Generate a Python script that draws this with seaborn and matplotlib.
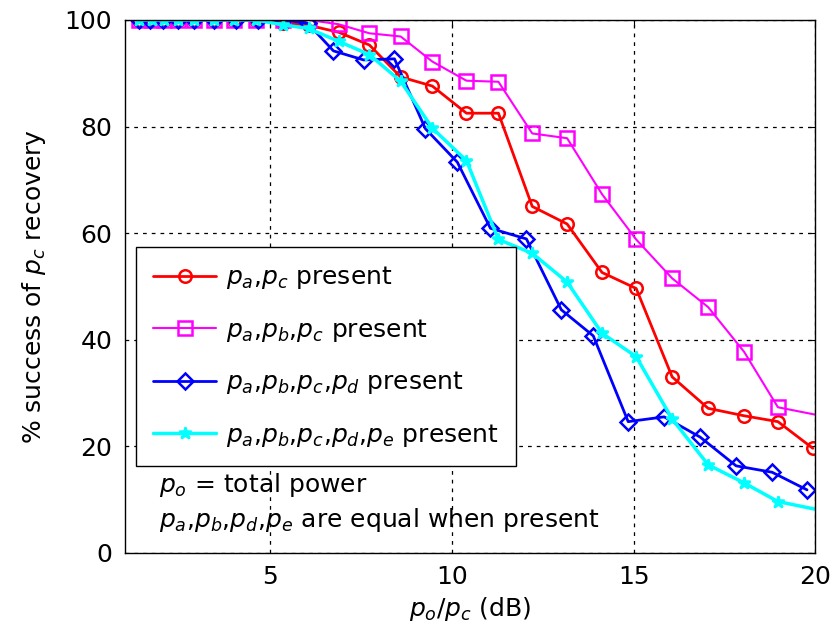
import matplotlib
matplotlib.use("Agg")
import matplotlib.pyplot as plt
import seaborn as sns
import pandas as pd

# Power ratio p_o/p_c in dB for each configuration
x_ac = [1.39, 1.74, 2.07, 2.46, 2.90, 3.45, 4.00, 4.60, 5.34, 6.06, 6.88, 7.73, 8.59,
        9.46, 10.40, 11.28, 12.21, 13.17, 14.13, 15.07, 16.06, 17.05, 18.04, 18.97, 19.93]
x_abc = x_ac[:-1] + [20.9]
x_abcde = x_ac[:-1] + [20.9]
x_abcd = [1.39, 1.69, 2.05, 2.46, 2.90, 3.45, 4.05, 4.66, 5.34, 6.03, 6.74, 7.57, 8.42,
          9.27, 10.15, 11.06, 12.05, 13.01, 13.89, 14.85, 15.84, 16.83, 17.82, 18.81, 19.77]

# % success of p_c recovery
y_ac = [100, 100, 100, 100, 100, 100, 100, 100, 99.5, 99.0, 97.7, 95.3, 89.3,
        87.6, 82.5, 82.5, 65.0, 61.7, 52.6, 49.6, 33.0, 27.1, 25.7, 24.6, 19.6]
y_abc = [100, 100, 100, 100, 100, 100, 100, 100, 100, 100, 99.2, 97.5, 96.9,
         92.2, 88.6, 88.4, 78.7, 77.8, 67.3, 58.8, 51.5, 46.1, 37.7, 27.3, 24.7]
y_abcd = [100, 100, 100, 100, 100, 100, 100, 100, 100, 99.4, 94.2, 92.5, 92.7,
          79.6, 73.3, 60.9, 58.9, 45.6, 40.7, 24.6, 25.5, 21.7, 16.3, 15.1, 11.8]
y_abcde = [100, 100, 100, 100, 100, 100, 100, 100, 99.1, 98.4, 96.0, 93.5, 88.5,
           79.7, 73.6, 58.8, 56.2, 50.8, 41.2, 36.8, 25.1, 16.5, 13.1, 9.6, 6.9]

labels = [r"$p_a$,$p_c$ present",
          r"$p_a$,$p_b$,$p_c$ present",
          r"$p_a$,$p_b$,$p_c$,$p_d$ present",
          r"$p_a$,$p_b$,$p_c$,$p_d$,$p_e$ present"]

sns.set_style("white")
plt.rcParams["font.family"] = ["DejaVu Sans"]
plt.rcParams["mathtext.fontset"] = "dejavusans"
for key in ("text.color", "axes.labelcolor", "xtick.color", "ytick.color"):
    plt.rcParams[key] = "black"

FS = 18

fig = plt.figure(figsize=(8.32, 6.38), dpi=100)
ax = fig.add_axes([0.150, 0.1337, 0.830, 0.835])

styles = [
    (x_ac, y_ac, "#ff0000", "o", 2.0, 9, "none"),
    (x_abc, y_abc, "#ff00ff", "s", 1.5, 10, "none"),
    (x_abcd, y_abcd, "#0000ff", "D", 2.0, 8, "none"),
    (x_abcde, y_abcde, "#00ffff", "*", 2.5, 9, "#00ffff"),
]

for (xs, ys, col, mk, lw, ms, mfc), lab in zip(styles, labels):
    df = pd.DataFrame({"x": xs, "y": ys})
    sns.lineplot(data=df, x="x", y="y", ax=ax, color=col, marker=mk, linewidth=lw,
                 markersize=ms, markerfacecolor=mfc, markeredgecolor=col,
                 markeredgewidth=1.8, label=lab, clip_on=True)

ax.set_xlim(1, 20)
ax.set_ylim(0, 100)
ax.set_xticks([5, 10, 15, 20])
ax.set_yticks([0, 20, 40, 60, 80, 100])
ax.grid(True, color="black", linestyle=(0, (3, 4)), linewidth=0.9)
ax.tick_params(direction="in", labelsize=FS, length=5, width=0.8,
               top=True, right=True, pad=9)
for s in ax.spines.values():
    s.set_color("black")
    s.set_linewidth(1.0)

ax.set_xlabel(r"$p_o$/$p_c$ (dB)", fontsize=FS, labelpad=4)
ax.set_ylabel(r"% success of $p_c$ recovery", fontsize=FS, labelpad=12)

leg = ax.legend(loc="upper left", bbox_to_anchor=(0.016, 0.574), borderaxespad=0,
                fontsize=FS, frameon=True, fancybox=False, edgecolor="black",
                framealpha=1, handlelength=2.5, labelspacing=1.02,
                borderpad=0.7, handletextpad=0.4)
leg.get_frame().set_linewidth(1.0)
for t in leg.get_texts():
    t.set_color("black")

ax.text(0.05, 0.127, r"$p_o$ = total power", transform=ax.transAxes,
        fontsize=FS, va="center", ha="left")
ax.text(0.05, 0.062, r"$p_a$,$p_b$,$p_d$,$p_e$ are equal when present",
        transform=ax.transAxes, fontsize=FS, va="center", ha="left")

fig.savefig("out.png", dpi=100, facecolor="white")
